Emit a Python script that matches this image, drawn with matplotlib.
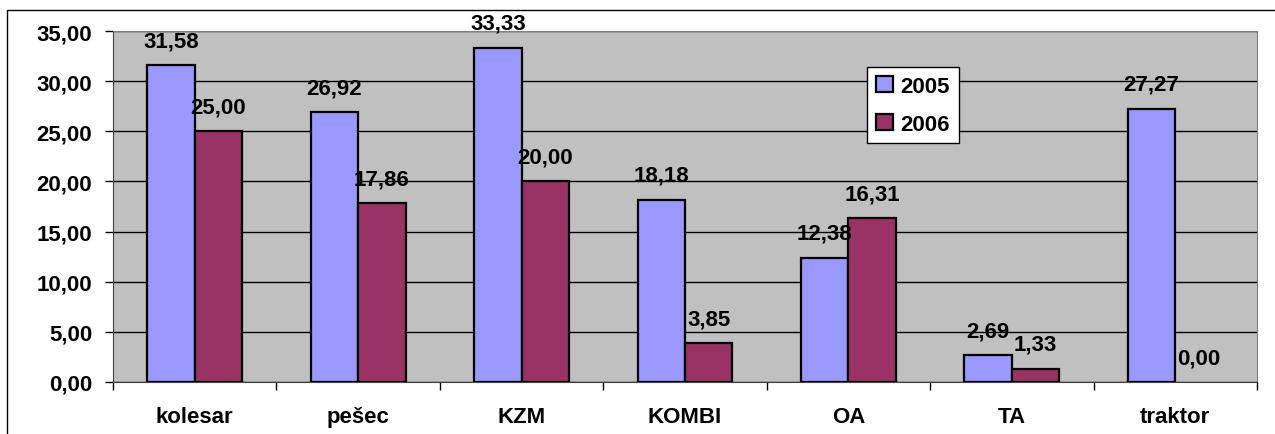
import numpy as np
import matplotlib.pyplot as plt
from matplotlib.patches import Rectangle

categories = ['kolesar', 'pešec', 'KZM', 'KOMBI', 'OA', 'TA', 'traktor']
years = ['2005', '2006']
values_2005 = [31.58, 26.92, 33.33, 18.18, 12.38, 2.69, 27.27]
values_2006 = [25.00, 17.86, 20.00, 3.85, 16.31, 1.33, 0.00]
yticks = [0, 5, 10, 15, 20, 25, 30, 35]

plt.rcParams['font.family'] = ['Liberation Sans', 'DejaVu Sans']
plt.rcParams['font.weight'] = 'bold'

FS = 16


def fmt(v):
    return f'{v:.2f}'.replace('.', ',')


def main():
    W, H = 1275, 435
    fig = plt.figure(figsize=(W / 100, H / 100), dpi=100)
    ax = fig.add_axes([113 / W, 1 - 383 / H, (1257 - 113) / W, (383 - 32) / H])

    # outer chart border
    fig.patches.append(Rectangle((7 / W, -0.1), 1.2, 1 - 11 / H + 0.1,
                                 transform=fig.transFigure, fill=False,
                                 edgecolor='black', lw=1.0))

    x = np.arange(len(categories))
    w = 0.29
    b1 = ax.bar(x - w / 2, values_2005, w, color='#9999FF', edgecolor='black',
                lw=1.6, label=years[0], zorder=3)
    b2 = ax.bar(x + w / 2, values_2006, w, color='#993366', edgecolor='black',
                lw=[1.6 if v > 0 else 0 for v in values_2006],
                label=years[1], zorder=3)

    for bars, vals in ((b1, values_2005), (b2, values_2006)):
        for rect, v in zip(bars, vals):
            ax.annotate(fmt(v), (rect.get_x() + rect.get_width() / 2, v),
                        xytext=(0, 10), textcoords='offset points',
                        ha='center', va='bottom', fontsize=FS,
                        fontweight='bold', zorder=4)

    ax.set_facecolor('#C0C0C0')
    ax.set_xlim(-0.5, len(categories) - 0.5)
    ax.set_ylim(0, 35)
    ax.set_yticks(yticks)
    ax.set_yticklabels([fmt(v) for v in yticks], fontsize=FS, fontweight='bold')
    ax.yaxis.grid(True, color='black', lw=1.0, zorder=1)
    ax.set_axisbelow(True)

    ax.set_xticks(x)
    ax.set_xticklabels(categories, fontsize=FS, fontweight='bold')
    ax.tick_params(axis='x', which='major', length=0, pad=17)
    ax.set_xticks(np.arange(-0.5, len(categories)), minor=True)
    ax.tick_params(axis='x', which='minor', length=6, width=1, color='black')
    ax.tick_params(axis='y', length=6, width=1, color='black', pad=9)

    for side in ('top', 'right'):
        ax.spines[side].set_color('#808080')
    ax.spines['left'].set_color('#404040')
    ax.spines['bottom'].set_color('#404040')

    leg = ax.legend(loc='upper left', bbox_to_anchor=((867 - 113) / (1257 - 113),
                    1 - (68 - 32) / (383 - 32)), fontsize=FS, frameon=True,
                    fancybox=False, edgecolor='black', framealpha=1,
                    handlelength=0.75, handleheight=0.75, handletextpad=0.35,
                    labelspacing=0.75, borderpad=0.4, borderaxespad=0)
    leg.get_frame().set_linewidth(1.0)
    for t in leg.get_texts():
        t.set_fontweight('bold')
    for p in leg.get_patches():
        p.set_linewidth(1.6)

    fig.savefig('out.png', dpi=100)


if __name__ == '__main__':
    main()
